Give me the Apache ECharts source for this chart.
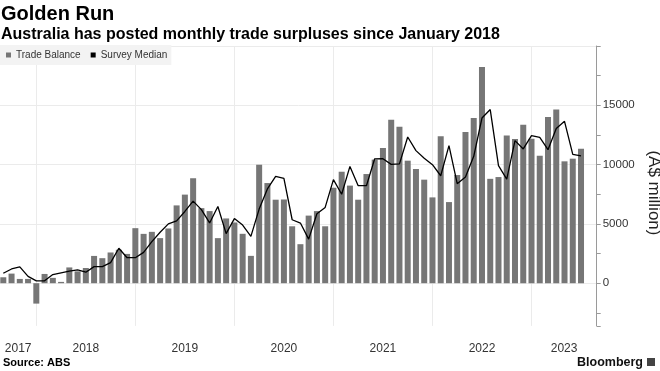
<!DOCTYPE html>
<html>
<head>
<meta charset="utf-8">
<script src="https://cdn.jsdelivr.net/npm/echarts@6/dist/echarts.min.js"></script>
<style>
html,body{margin:0;padding:0;background:#fff;}
#chart{width:660px;height:371px;}
</style>
</head>
<body>
<div id="chart"></div>
<script>
// ---------- DATA ----------
const months = [
  '2017-08','2017-09','2017-10','2017-11','2017-12',
  '2018-01','2018-02','2018-03','2018-04','2018-05','2018-06','2018-07','2018-08','2018-09','2018-10','2018-11','2018-12',
  '2019-01','2019-02','2019-03','2019-04','2019-05','2019-06','2019-07','2019-08','2019-09','2019-10','2019-11','2019-12',
  '2020-01','2020-02','2020-03','2020-04','2020-05','2020-06','2020-07','2020-08','2020-09','2020-10','2020-11','2020-12',
  '2021-01','2021-02','2021-03','2021-04','2021-05','2021-06','2021-07','2021-08','2021-09','2021-10','2021-11','2021-12',
  '2022-01','2022-02','2022-03','2022-04','2022-05','2022-06','2022-07','2022-08','2022-09','2022-10','2022-11','2022-12',
  '2023-01','2023-02','2023-03','2023-04','2023-05','2023-06'
];
const tradeBalance = [
  500, 810, 360, 360, -1720,
  780, 450, 110, 1330, 1000, 1280, 2300, 2110, 2590, 2820, 2470, 4640,
  4160, 4330, 3800, 4615, 6560, 7470, 8850, 6330, 6080, 3800, 5460, 5120,
  4165, 2305, 9990, 8445, 7040, 7060, 4800, 3290, 5700, 6080, 4800, 8050,
  9400, 8230, 7040, 9205, 10420, 11400, 13790, 13200, 10330, 9630, 8730, 7235,
  12390, 6840, 9120, 12750, 13930, 18230, 8800, 8950, 12450, 12160, 13370, 12170,
  10750, 14020, 14640, 10275, 10500, 11330
];
const surveyMedian = [
  840, 1200, 1380, 570, 200,
  200, 730, 870, 1010, 1120, 930, 1400, 1400, 1730, 2950, 2150, 2150,
  2600, 3500, 4300, 5000, 5260, 6050, 6920, 6200, 5080, 6470, 4180, 5450,
  4900, 3950, 6250, 7950, 9000, 8840, 5350, 5070, 3720, 5850, 6390, 8730,
  7500, 9850, 8220, 8220, 10490, 10500, 10020, 10060, 12330, 11180, 10540, 9990,
  9060, 11600, 8390, 8950, 10700, 13930, 14640, 9910, 8780, 12020, 11320, 12440,
  12300, 11260, 13050, 13650, 10860, 10740
];
const yearLabels = ['2017','2018','2019','2020','2021','2022','2023'];
const yTickLabels = [0, 5000, 10000, 15000];

// ---------- LAYOUT ----------
const FONT = "'Liberation Sans', Arial, sans-serif";
const X_MIN = -4.4, X_MAX = 67.9;     // months relative to Dec 2017
const Y_MIN = -3600, Y_MAX = 20000;

function monthPos(m){
  const p = m.split('-').map(Number);
  return (p[0] - 2017) * 12 + p[1] - 12;
}
const barData = months.map((m, i) => [monthPos(m), tradeBalance[i]]);
const lineData = months.map((m, i) => [monthPos(m), surveyMedian[i]]);
const yearCenters = yearLabels.map(y => {
  const s = (Number(y) - 2018) * 12, e = s + 12;
  return (Math.max(s, X_MIN) + Math.min(e, X_MAX)) / 2;
});

const chart = echarts.init(document.getElementById('chart'), null, {renderer: 'canvas'});
chart.setOption({
  animation: false,
  backgroundColor: '#fff',
  textStyle: {fontFamily: FONT},
  title: {
    left: 0, top: 4, padding: [0, 0, 0, 1], itemGap: 3,
    text: 'Golden Run',
    textStyle: {fontFamily: FONT, fontSize: 20, fontWeight: 'bold', color: '#000'},
    subtext: 'Australia has posted monthly trade surpluses since January 2018',
    subtextStyle: {fontFamily: FONT, fontSize: 16, fontWeight: 'bold', color: '#000'}
  },
  legend: {
    left: 0, top: 45, padding: [5, 4, 5, 6], itemGap: 10,
    itemWidth: 5, itemHeight: 5, icon: 'rect',
    backgroundColor: '#f3f3f3',
    textStyle: {fontFamily: FONT, fontSize: 10, color: '#333'},
    data: ['Trade Balance', 'Survey Median']
  },
  grid: {left: 0, right: 63.3, top: 46, bottom: 45.1, containLabel: false, outerBoundsMode: 'none'},
  xAxis: {
    type: 'value', min: X_MIN, max: X_MAX, minInterval: 12, maxInterval: 12,
    axisLine: {show: false}, axisTick: {show: false},
    splitLine: {show: true, showMinLine: false, showMaxLine: false, lineStyle: {color: '#ebebeb', width: 1}},
    axisLabel: {
      customValues: yearCenters, margin: 17, fontSize: 12, color: '#333', fontFamily: FONT,
      formatter: v => { const i = yearCenters.findIndex(c => Math.abs(c - v) < 1e-6); return i >= 0 ? yearLabels[i] : ''; }
    }
  },
  yAxis: [
    {
      type: 'value', position: 'right', min: Y_MIN, max: Y_MAX, minInterval: 5000, maxInterval: 5000,
      axisLine: {show: false}, axisTick: {show: false},
      axisLabel: {margin: 6, fontSize: 11.5, color: '#333', fontFamily: FONT,
        formatter: v => yTickLabels.indexOf(v) >= 0 ? String(v) : ''},
      splitLine: {show: true, showMinLine: false, lineStyle: {color: '#ebebeb', width: 1}},
      name: '(A$ million)', nameLocation: 'middle', nameRotate: -90, nameGap: 47,
      nameTextStyle: {fontFamily: FONT, fontSize: 17, color: '#222', padding: [0, 0, 0, 14]}
    },
    {
      type: 'value', position: 'right', min: Y_MIN, max: Y_MAX, minInterval: 2500, maxInterval: 2500,
      axisLine: {show: true, lineStyle: {color: '#9a9a9a', width: 1}},
      axisTick: {show: true, length: 4, lineStyle: {color: '#9a9a9a'}},
      axisLabel: {show: false}, splitLine: {show: false}
    }
  ],
  series: [
    {
      name: 'Trade Balance', type: 'bar', data: barData, barWidth: 6,
      xAxisIndex: 0, yAxisIndex: 0,
      itemStyle: {color: '#767676'}
    },
    {
      name: 'Survey Median', type: 'line', data: lineData, symbol: 'none',
      xAxisIndex: 0, yAxisIndex: 0,
      lineStyle: {color: '#000', width: 1.3}, itemStyle: {color: '#000'}
    }
  ],
  graphic: [
    {type: 'text', left: 3, top: 357, style: {text: 'Source: ABS', font: "bold 11px 'Liberation Sans', Arial, sans-serif", fill: '#000'}},
    {type: 'text', left: 577, top: 356, style: {text: 'Bloomberg', font: "bold 12.5px 'Liberation Sans', Arial, sans-serif", fill: '#111'}},
    {type: 'rect', left: 647, top: 358, shape: {width: 8, height: 8}, style: {fill: '#444'}}
  ]
});
</script>
</body>
</html>
